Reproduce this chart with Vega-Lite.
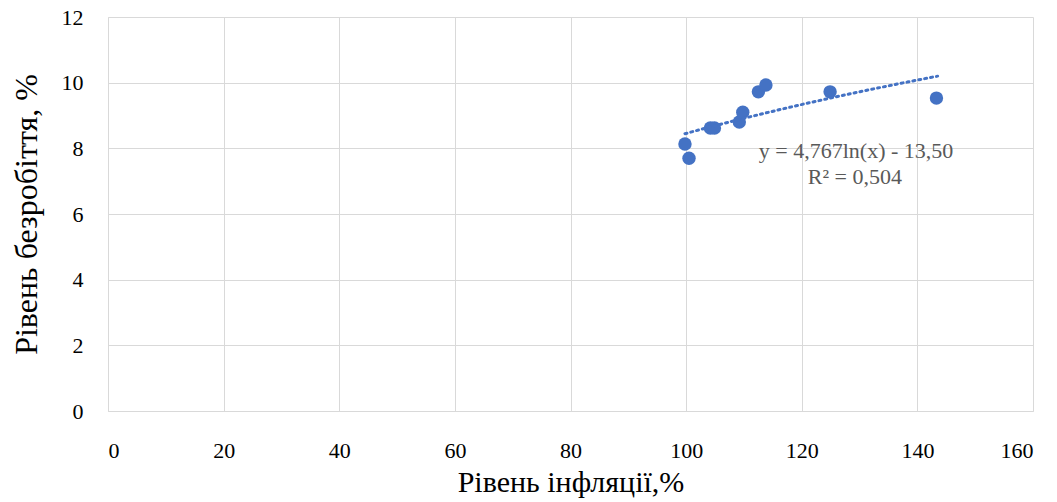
{
  "$schema": "https://vega.github.io/schema/vega-lite/v6.json",
  "width": 925,
  "height": 394,
  "autosize": {"type": "none"},
  "padding": {"left": 108, "top": 17, "right": 24, "bottom": 91},
  "background": "white",
  "config": {
    "view": {"stroke": null},
    "font": "Liberation Serif",
    "style": {
      "guide-label": {"font": "Liberation Serif, Times New Roman, serif"},
      "guide-title": {"font": "Liberation Serif, Times New Roman, serif"}
    },
    "axis": {
      "labelFont": "Liberation Serif, Times New Roman, serif",
      "titleFont": "Liberation Serif, Times New Roman, serif",
      "labelColor": "#000000",
      "titleColor": "#000000",
      "titleFontWeight": "normal",
      "gridColor": "#d9d9d9",
      "gridWidth": 1,
      "domainColor": "#d9d9d9",
      "ticks": false
    }
  },
  "datasets": {
    "pts": [
      {"inflation": 99.8, "unemployment": 8.13},
      {"inflation": 100.5, "unemployment": 7.7},
      {"inflation": 104.2, "unemployment": 8.62},
      {"inflation": 104.9, "unemployment": 8.62},
      {"inflation": 109.2, "unemployment": 8.8},
      {"inflation": 109.8, "unemployment": 9.1},
      {"inflation": 112.5, "unemployment": 9.72},
      {"inflation": 113.8, "unemployment": 9.93},
      {"inflation": 124.9, "unemployment": 9.72},
      {"inflation": 143.3, "unemployment": 9.53}
    ],
    "labels": [
      {"inflation": 129.4, "unemployment": 7.92, "text": "y = 4,767ln(x) - 13,50"},
      {"inflation": 129.2, "unemployment": 7.13, "text": "R² = 0,504"}
    ]
  },
  "layer": [
    {
      "data": {"name": "pts"},
      "mark": {"type": "circle", "size": 180, "opacity": 1, "color": "#4472C4"},
      "encoding": {
        "x": {
          "field": "inflation", "type": "quantitative",
          "scale": {"domain": [0, 160], "nice": false},
          "axis": {"values": [0, 20, 40, 60, 80, 100, 120, 140, 160], "labelFont": "Liberation Serif, Times New Roman, serif", "labelFontSize": 22, "labelPadding": 29, "title": "Рівень інфляції,%", "titleFont": "Liberation Serif, Times New Roman, serif", "titleFontSize": 30, "titlePadding": 6}
        },
        "y": {
          "field": "unemployment", "type": "quantitative",
          "scale": {"domain": [0, 12], "nice": false},
          "axis": {"values": [0, 2, 4, 6, 8, 10, 12], "labelFont": "Liberation Serif, Times New Roman, serif", "labelFontSize": 22, "labelPadding": 25, "title": "Рівень безробіття, %", "titleFont": "Liberation Serif, Times New Roman, serif", "titleFontSize": 32, "titlePadding": 18}
        }
      }
    },
    {
      "data": {"name": "pts"},
      "transform": [
        {"regression": "unemployment", "on": "inflation", "method": "log", "extent": [99.8, 143.5]}
      ],
      "mark": {"type": "line", "color": "#4472C4", "strokeWidth": 3, "strokeDash": [2, 4], "strokeCap": "round"},
      "encoding": {
        "x": {"field": "inflation", "type": "quantitative"},
        "y": {"field": "unemployment", "type": "quantitative"}
      }
    },
    {
      "data": {"name": "labels"},
      "mark": {"type": "text", "font": "Liberation Serif, Times New Roman, serif", "fontSize": 22, "color": "#595959", "align": "center", "baseline": "middle"},
      "encoding": {
        "x": {"field": "inflation", "type": "quantitative"},
        "y": {"field": "unemployment", "type": "quantitative"},
        "text": {"field": "text"}
      }
    }
  ]
}
